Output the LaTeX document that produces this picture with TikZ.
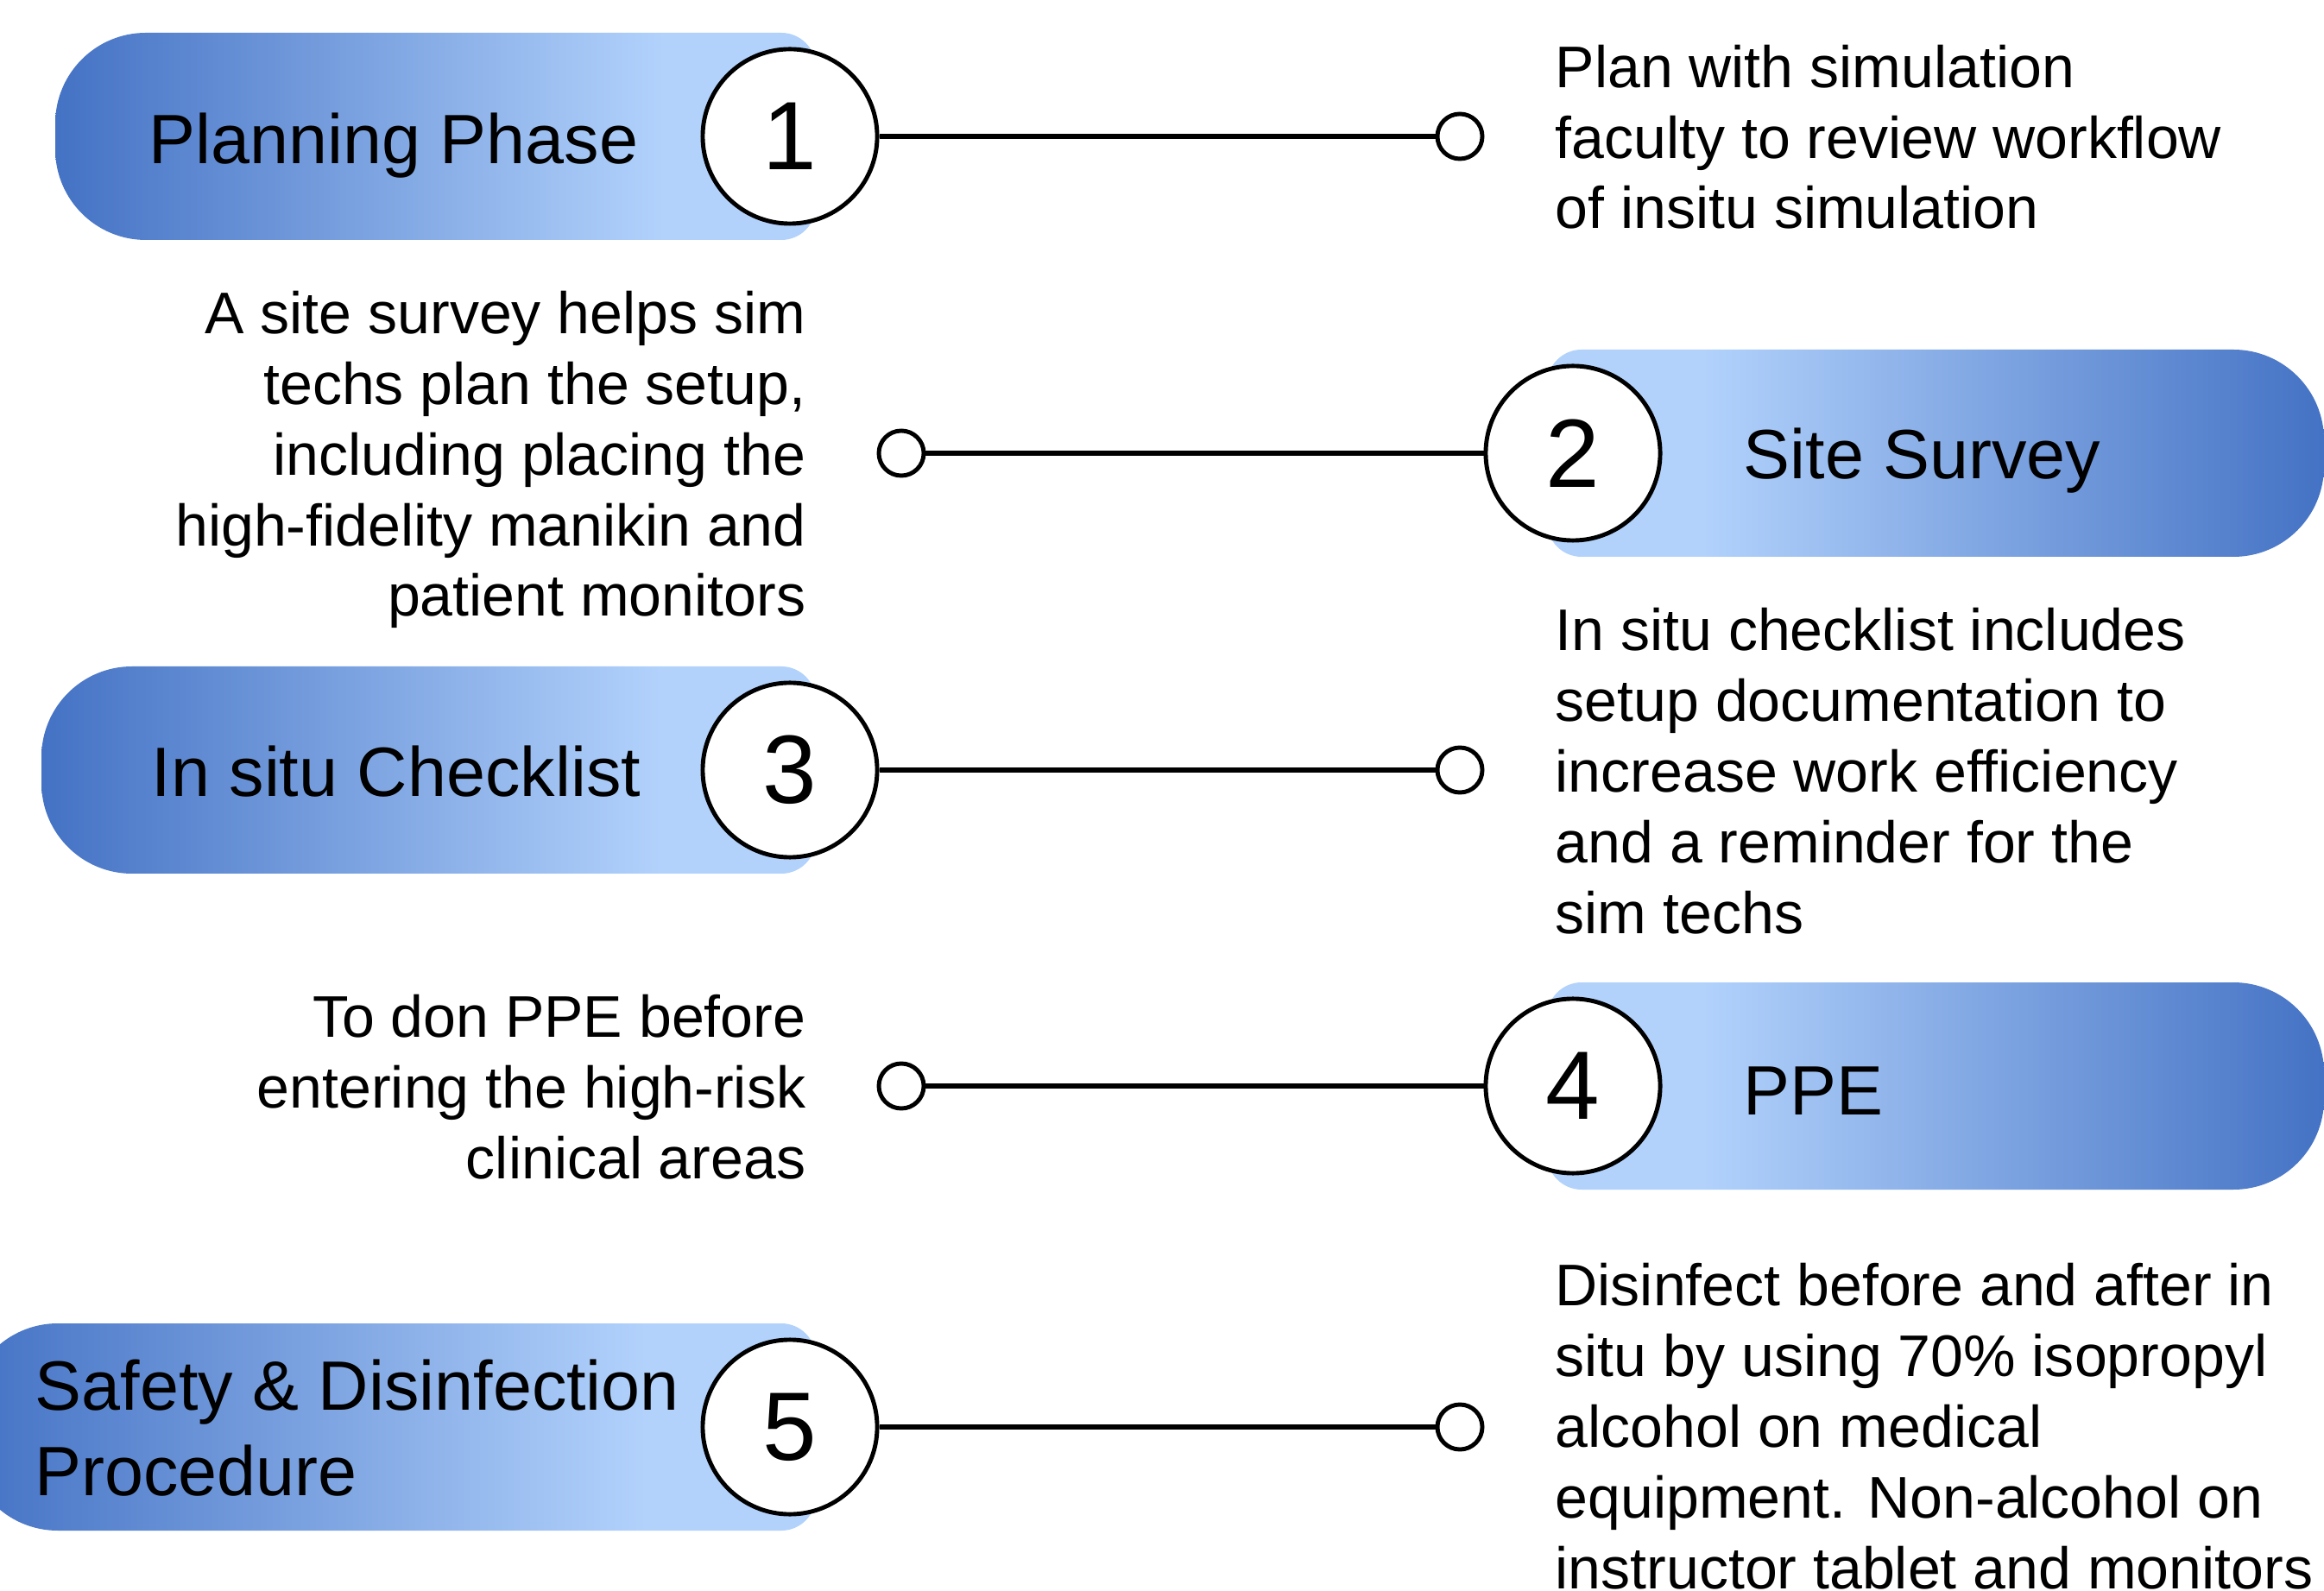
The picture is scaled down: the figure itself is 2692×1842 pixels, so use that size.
\documentclass[tikz,border=0pt]{standalone}
\usepackage{fontspec}
\setmainfont{Liberation Sans}
\definecolor{dk}{RGB}{68,114,196}
\definecolor{lt}{RGB}{178,210,252}
\pgfdeclarehorizontalshading{shL}{100bp}{color(0bp)=(dk); color(25bp)=(dk); color(65bp)=(lt); color(100bp)=(lt)}
\pgfdeclarehorizontalshading{shR}{100bp}{color(0bp)=(lt); color(35bp)=(lt); color(75bp)=(dk); color(100bp)=(dk)}
% left pill: #1 far (big-radius) left x, #2 right x near circle, #3 centre Y
\newcommand\lpillpath[3]{%
  \shade[shading=shL] (#1+105,#3+120) -- (#2-40,#3+120)
    arc[start angle=90,end angle=0,radius=40] -- (#2,#3-80)
    arc[start angle=0,end angle=-90,radius=40] -- (#1+105,#3-120)
    arc[start angle=270,end angle=180,radius=105] -- (#1,#3+15)
    arc[start angle=180,end angle=90,radius=105] -- cycle;}
% right pill: #1 left x near circle, #2 far right x, #3 centre Y
\newcommand\rpillpath[3]{%
  \shade[shading=shR] (#1+40,#3+120) -- (#2-105,#3+120)
    arc[start angle=90,end angle=0,radius=105] -- (#2,#3-15)
    arc[start angle=0,end angle=-90,radius=105] -- (#1+40,#3-120)
    arc[start angle=270,end angle=180,radius=40] -- (#1,#3+80)
    arc[start angle=180,end angle=90,radius=40] -- cycle;}
\tikzset{
  numc/.style={circle, draw=black, line width=1.4pt, fill=white, minimum size=2.02cm,
    inner sep=0pt, font=\fontsize{32}{38}\selectfont},
  endc/.style={circle, draw=black, line width=1.4pt, fill=white, minimum size=0.52cm, inner sep=0pt},
  conn/.style={line width=1.5pt},
  lab/.style={font=\fontsize{23}{28.1}\selectfont, inner sep=0pt, align=left},
  descl/.style={font=\fontsize{19.35}{23.3}\selectfont, inner sep=0pt, align=left, anchor=base west},
  descr/.style={font=\fontsize{19.35}{23.3}\selectfont, inner sep=0pt, align=right, anchor=base east},
}
\begin{document}
\begin{tikzpicture}[x=0.01cm,y=0.01cm]
\useasboundingbox (0,0) rectangle (2692,1842);
\clip (0,0) rectangle (2692,1842);
% pills
\lpillpath{64}{945}{1684}
\rpillpath{1792}{2692}{1317}
\lpillpath{48}{945}{950}
\rpillpath{1792}{2692}{584}
\lpillpath{-38}{945}{189}
% pill labels (base anchor = baseline of last line)
\node[lab, anchor=base west] (l1) at (172,1652) {Planning Phase};
\node[lab, anchor=base west] (l2) at (2019,1287) {Site Survey};
\node[lab, anchor=base west] (l3) at (175,919) {In situ Checklist};
\node[lab, anchor=base west] (l4) at (2019,551) {PPE};
\node[lab, anchor=base west] (l5) at (40,110) {Safety \& Disinfection\\Procedure};
% number circles
\node[numc] (n1) at (915,1684) {1};
\node[numc] (n2) at (1822,1317) {2};
\node[numc] (n3) at (915,950) {3};
\node[numc] (n4) at (1822,584) {4};
\node[numc] (n5) at (915,189) {5};
% end circles
\node[endc] (e1) at (1691,1684) {};
\node[endc] (e2) at (1044,1317) {};
\node[endc] (e3) at (1691,950) {};
\node[endc] (e4) at (1044,584) {};
\node[endc] (e5) at (1691,189) {};
% connectors
\draw[conn] (n1) -- (e1);
\draw[conn] (n2) -- (e2);
\draw[conn] (n3) -- (e3);
\draw[conn] (n4) -- (e4);
\draw[conn] (n5) -- (e5);
% descriptions (base anchor = baseline of last line)
\node[descl] (d1) at (1801,1577) {Plan with simulation\\faculty to review workflow\\of insitu simulation};
\node[descr] (d2) at (934,1128) {A site survey helps sim\\techs plan the setup,\\including placing the\\high-fidelity manikin and\\patient monitors};
\node[descl] (d3) at (1801,761) {In situ checklist includes\\setup documentation to\\increase work efficiency\\and a reminder for the\\sim techs};
\node[descr] (d4) at (934,477) {To don PPE before\\entering the high-risk\\clinical areas};
\node[descl] (d5) at (1801,2) {Disinfect before and after in\\situ by using 70\% isopropyl\\alcohol on medical\\equipment. Non-alcohol on\\instructor tablet and monitors};
\end{tikzpicture}
\end{document}
